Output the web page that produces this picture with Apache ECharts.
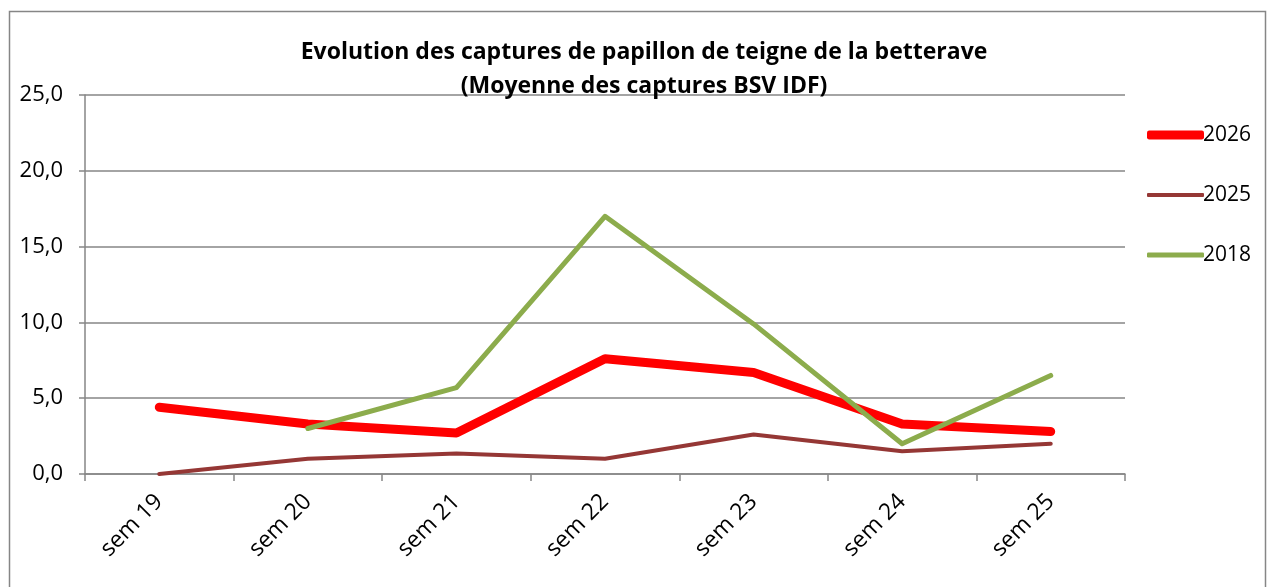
<!DOCTYPE html>
<html>
<head>
<meta charset="utf-8">
<script src="https://cdn.jsdelivr.net/npm/echarts@6/dist/echarts.min.js"></script>
<style>
  html, body { margin: 0; padding: 0; background: #fff; }
  #main { width: 1270px; height: 587px; }
</style>
</head>
<body>
<div id="main"></div>
<script>
// semaines
const weeks = ['sem 19', 'sem 20', 'sem 21', 'sem 22', 'sem 23', 'sem 24', 'sem 25'];
// captures moyennes
const y2026 = [4.4, 3.3, 2.7, 7.6, 6.7, 3.3, 2.8];
const y2025 = [0.0, 1.0, 1.35, 1.0, 2.6, 1.5, 2.0];
const y2018 = [null, 3.0, 5.7, 17.0, 9.9, 2.0, 6.5];

const font = '"Open Sans", "Liberation Sans", sans-serif';
const gridColor = '#868686';

const chart = echarts.init(document.getElementById('main'));

// one legend block per series so each icon gets its own thickness
function legendItem(name, color, thick, centerY) {
  return {
    orient: 'vertical',
    left: 1142,
    top: centerY - 18,
    itemWidth: 57,
    itemHeight: thick,
    icon: 'roundRect',
    textStyle: { fontSize: 21, lineHeight: 28, fontFamily: font, color: '#000', padding: [0, 0, 0, -6] },
    data: [{ name: name, itemStyle: { color: color } }]
  };
}

const option = {
  animation: false,
  textStyle: { fontFamily: font, color: '#000' },
  title: {
    text: 'Evolution des captures de papillon de teigne de la betterave\n(Moyenne des captures BSV IDF)',
    left: 639,
    textAlign: 'center',
    top: 30,
    textStyle: { fontSize: 23, fontWeight: 'bold', lineHeight: 34, color: '#000', fontFamily: font }
  },
  graphic: [{
    type: 'rect',
    shape: { x: 9.5, y: 11.5, width: 1256, height: 600 },
    style: { fill: 'none', stroke: gridColor, lineWidth: 1.5 },
    silent: true
  }],
  legend: [
    legendItem('2026', '#ff0000', 9, 134),
    legendItem('2025', '#953735', 4, 194),
    legendItem('2018', '#8cac4c', 5, 254)
  ],
  grid: { left: 85, right: 145, top: 95, bottom: 113, containLabel: false },
  xAxis: {
    type: 'category',
    data: weeks,
    boundaryGap: true,
    axisLine: { lineStyle: { color: gridColor, width: 1.5 } },
    axisTick: { show: true, length: 7, lineStyle: { color: gridColor, width: 1.5 } },
    axisLabel: { rotate: 45, fontSize: 23, color: '#000', margin: 24, fontFamily: font }
  },
  yAxis: {
    type: 'value',
    min: 0,
    max: 25,
    interval: 5,
    axisLine: { show: true, lineStyle: { color: gridColor, width: 1.5 } },
    axisTick: { show: true, length: 6, lineStyle: { color: gridColor, width: 1.5 } },
    splitLine: { lineStyle: { color: gridColor, width: 1.5 } },
    axisLabel: {
      fontSize: 22, color: '#000', margin: 22, fontFamily: font,
      formatter: v => v.toFixed(1).replace('.', ',')
    }
  },
  series: [
    {
      name: '2026', type: 'line', data: y2026, symbol: 'none',
      lineStyle: { color: '#ff0000', width: 9, cap: 'round', join: 'round' },
      itemStyle: { color: '#ff0000' }, z: 3
    },
    {
      name: '2025', type: 'line', data: y2025, symbol: 'none',
      lineStyle: { color: '#953735', width: 4, cap: 'round', join: 'round' },
      itemStyle: { color: '#953735' }, z: 2
    },
    {
      name: '2018', type: 'line', data: y2018, symbol: 'none',
      lineStyle: { color: '#8cac4c', width: 5, cap: 'round', join: 'round' },
      itemStyle: { color: '#8cac4c' }, z: 4
    }
  ]
};

chart.setOption(option);
</script>
</body>
</html>
